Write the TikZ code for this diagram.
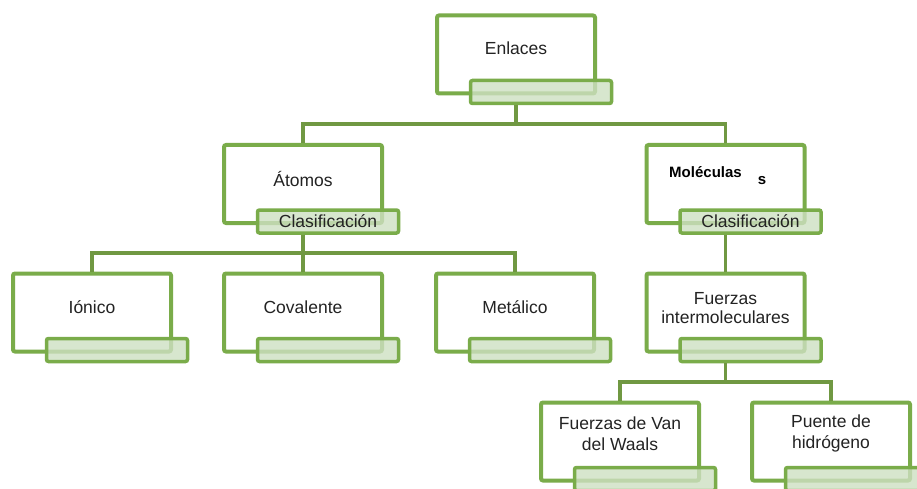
\documentclass[tikz,border=0pt]{standalone}
\usepackage{fontspec}
\setmainfont{Liberation Sans}
\usetikzlibrary{positioning,calc}
\definecolor{frame}{RGB}{122,172,74}
\definecolor{connc}{RGB}{112,152,66}
\definecolor{tagfill}{RGB}{206,224,194}
\definecolor{ink}{RGB}{35,35,35}

\begin{document}
\begin{tikzpicture}[x=1pt,y=-1pt,
    mainbox/.style={draw=frame,line width=4pt,fill=white,rounded corners=2pt,
      minimum width=158pt,minimum height=78pt,inner sep=0pt},
    tagbox/.style={draw=frame,line width=3.5pt,fill=tagfill,fill opacity=0.8,
      text opacity=1,text=ink,rounded corners=2pt,minimum width=141pt,minimum height=23pt,
      inner sep=0pt,font=\fontsize{17.5}{19}\selectfont},
    boxtext/.style={align=center,inner sep=0pt,text=ink,font=\fontsize{17.5}{18.5}\selectfont},
    conn/.style={draw=connc,line width=3.5pt}]
    \clip (0,0) rectangle (917,489);
    \fill[white] (0,0) rectangle (917,489);
    % boxes and their tags
    \foreach \n/\x/\y/\tag in {
      enl/516/54.5/{},
      atm/303/184/{Clasificación},
      mol/725.5/184/{Clasificación},
      ion/92/312.5/{},
      cov/303/312.5/{},
      met/515/312.5/{},
      fi/725.5/312.5/{},
      vdw/620/441.5/{},
      phg/831/441.5/{}}{
      \node[mainbox] (\n) at (\x,\y) {};
      \node[tagbox] (\n-l) at ([xshift=25pt,yshift=-37.5pt]\n.center) {\tag};
    }
    % texts
    \foreach \n/\dy/\txt in {
      enl/6/Enlaces,
      atm/5/Átomos,
      ion/5/Iónico,
      cov/5/Covalente,
      met/5/Metálico,
      fi/4.5/{Fuerzas\\intermoleculares},
      vdw/8/{Fuerzas de Van\\[3pt]del Waals},
      phg/8/{Puente de\\[3pt]hidrógeno}}{
      \node[boxtext] (\n-t) at ([yshift=\dy pt]\n.center) {\txt};
    }
    \node[font=\fontsize{15}{17}\selectfont\bfseries,inner sep=0pt] (mol-t) at (705.5,172) {Moléculas};
    \node[font=\fontsize{15}{17}\selectfont\bfseries,inner sep=0pt] (mol-s) at (762,181) {s};
    % connectors
    \coordinate (bus1) at ($(enl-l.south)!.5!(atm.north)$);
    \coordinate (bus2) at ($(atm-l.south)!.5!(cov.north)$);
    \coordinate (bus3) at ($(fi-l.south)!.5!(vdw.north)$);
    \foreach \c in {atm,mol}
      \draw[conn] (enl |- enl-l.south) -- (enl |- bus1) -| (\c.north);
    \foreach \c in {ion,cov,met}
      \draw[conn] (atm |- atm-l.south) -- (atm |- bus2) -| (\c.north);
    \draw[conn] (mol |- mol-l.south) -- (fi.north);
    \foreach \c in {vdw,phg}
      \draw[conn] (fi |- fi-l.south) -- (fi |- bus3) -| (\c.north);
\end{tikzpicture}
\end{document}
